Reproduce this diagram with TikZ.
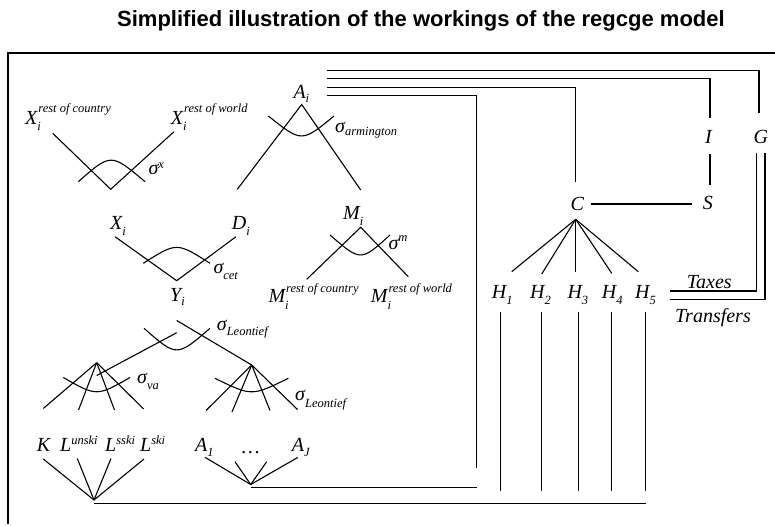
\documentclass[tikz,border=0pt]{standalone}
\usepackage{fontspec}
\setmainfont{Liberation Serif}
\newfontfamily\headfont{Liberation Sans}
\newcommand\smallsz{\fontsize{12.5}{14}\selectfont}
\newcommand\subtx[2][6]{\raisebox{-#1pt}{\smallsz #2}}
\newcommand\suptx[2][11]{\raisebox{#1pt}{\smallsz #2}}
\begin{document}
\begin{tikzpicture}[x=1pt,y=-1pt,
  lab/.style={font=\fontsize{20}{22}\selectfont\itshape, inner sep=0pt, anchor=base west},
  wire/.style={line width=1.1pt, line cap=butt},
  frame/.style={line width=1.4pt},
  elast/.style={line width=1.1pt}]
\useasboundingbox (0,0) rectangle (775,526);

% title and outer frame
\node[font=\headfont\bfseries\fontsize{22}{26}\selectfont, anchor=base west, inner sep=0pt] (title) at (117,27) {Simplified illustration of the workings of the regcge model};
\coordinate (fbl) at (8,524);
\coordinate (ftl) at (8,53);
\coordinate (ftr) at (775,53);
\draw[frame] (fbl) -- (ftl) -- (ftr);

% ---- labels ----
\node[lab] (xroc) at (25,125) {X\rlap{\subtx{i}}\kern1pt\suptx[12]{rest of country}};
\node[lab] (xrow) at (170.7,125) {X\rlap{\subtx{i}}\kern1pt\suptx[12]{rest of world}};
\node[lab] (sigx) at (148.3,175) {σ\suptx[6]{x}};
\node[lab] (ai) at (293.3,99) {A\subtx[4]{i}};
\node[lab] (sigarm) at (335,132.5) {σ\subtx[3]{armington}};
\node[lab] (xi) at (110,229.5) {X\subtx[6]{i}};
\node[lab] (di) at (231.7,229.5) {D\subtx[6]{i}};
\node[lab] (sigcet) at (213.3,273.3) {σ\subtx[6]{cet}};
\node[lab] (yi) at (170,301.7) {Y\subtx[4]{i}};
\node[lab] (mi) at (343,220) {M\subtx[6]{i}};
\node[lab] (sigm) at (388.3,250) {σ\suptx[8]{m}};
\node[lab] (mroc) at (268.3,302) {M\rlap{\subtx[7]{i}}\kern1pt\suptx[10]{rest of country}};
\node[lab] (mrow) at (370.7,302) {M\rlap{\subtx[7]{i}}\kern1pt\suptx[10]{rest of world}};
\node[lab] (sigleo) at (216.7,330) {σ\subtx[5]{Leontief}};
\node[lab] (sigva) at (137,383) {σ\subtx[6]{va}};
\node[lab] (sigleob) at (295,400.7) {σ\subtx[7]{Leontief}};
\node[lab] (k) at (36.7,451.7) {K};
\node[lab] (lun) at (60,451.7) {L\suptx[7]{unski}};
\node[lab] (lss) at (105,451.7) {L\suptx[7]{sski}};
\node[lab] (lsk) at (140,451.7) {L\suptx[7]{ski}};
\node[lab] (a1) at (195,451.7) {A\subtx[5]{1}};
\node[lab] (dots) at (241.7,453) {\ldots};
\node[lab] (aj) at (291.7,451.7) {A\subtx[5]{J}};
\node[lab] (c) at (570.5,210.5) {C};
\node[lab] (s) at (702.7,210) {S};
\node[lab] (inv) at (705,143.3) {I};
\node[lab] (g) at (753.3,143.3) {G};
\node[lab] (h1) at (491.7,298.3) {H\subtx[6]{1}};
\node[lab] (h2) at (530,298.3) {H\subtx[6]{2}};
\node[lab] (h3) at (567.3,298.3) {H\subtx[6]{3}};
\node[lab] (h4) at (601.7,298.3) {H\subtx[6]{4}};
\node[lab] (h5) at (635,298.3) {H\subtx[6]{5}};
\node[lab] (taxes) at (686.7,288.3) {Taxes};
\node[lab] (transfers) at (675,322.7) {Transfers};

% ---- nesting trees ----
% export split
\coordinate (vx) at (110.7,189.3);
\coordinate (vxl) at (52.7,133.3);
\coordinate (vxr) at (174,131.7);
\draw[wire] (vxl) -- (vx) -- (vxr);
\draw[elast] (78.3,181.7) .. controls (111,153) .. (145,181.7);

% Armington aggregate
\coordinate (va) at (301.7,104.5);
\coordinate (val) at (237.3,189.3);
\coordinate (var) at (360.7,190);
\draw[wire] (val) -- (va) -- (var);
\draw[elast] (268.3,116) .. controls (301.7,142.6) .. (334,116);

% CET transformation
\coordinate (vy) at (176.7,280.7);
\coordinate (vyl) at (115,236.7);
\coordinate (vyr) at (236,236.7);
\draw[wire] (vyl) -- (vy) -- (vyr);
\draw[elast] (143.3,263.3) .. controls (176.7,242.1) .. (210,263.3);

% import split
\coordinate (vm) at (360.7,227.3);
\coordinate (vml) at (306.7,279.3);
\coordinate (vmr) at (408.3,276.7);
\draw[wire] (vml) -- (vm) -- (vmr);
\draw[elast] (330,235) .. controls (360.7,261.6) .. (390,235);

% Leontief top level
\coordinate (lt1) at (176.7,320.5);
\coordinate (lt2) at (176.7,332.7);
\coordinate (vaend) at (96.7,375.5);
\coordinate (fva) at (96.7,362.7);
\coordinate (fin) at (251.7,365);
\draw[wire] (lt1) -- (fin);
\draw[wire] (lt2) -- (vaend);
\draw[elast] (144,328.3) .. controls (176.7,357.1) .. (210,328.3);

% value added fan
\foreach \x/\y [count=\n] in {43.3/408.5, 78.5/410, 114.5/410, 143.7/409}
  \coordinate (fva\n) at (\x,\y);
\foreach \n in {1,...,4} \draw[wire] (fva) -- (fva\n);
\draw[elast] (63.3,377.5) .. controls (96.7,396.5) .. (130,377.5);

% intermediate inputs fan
\foreach \x/\y [count=\n] in {206/410.5, 232/412, 270/410.5, 297.5/409.5}
  \coordinate (fin\n) at (\x,\y);
\foreach \n in {1,...,4} \draw[wire] (fin) -- (fin\n);
\draw[elast] (215,378.3) .. controls (251.7,396.3) .. (288.3,378.3);

% factor fan
\coordinate (kl) at (94,500);
\foreach \x/\y [count=\n] in {43.3/459, 77.3/458.5, 111/458.5, 144/459}
  \coordinate (kl\n) at (\x,\y);
\foreach \n in {1,...,4} \draw[wire] (kl) -- (kl\n);

% activity fan
\coordinate (af) at (250.7,484.5);
\foreach \x/\y [count=\n] in {205/457.3, 235/461.7, 266.7/461.7, 297.7/457.5}
  \coordinate (af\n) at (\x,\y);
\foreach \n in {1,...,4} \draw[wire] (af) -- (af\n);

% ---- flows ----
\coordinate (afh) at (250.7,487.5);
\coordinate (afr) at (476.7,487.5);
\draw[wire] (afh) -- (afr);
\coordinate (klh) at (94,503.3);
\coordinate (klr) at (645.8,503.3);
\draw[wire] (klh) -- (klr);

\coordinate (t4a) at (326.7,95.5);
\coordinate (t4b) at (476.7,95.5);
\coordinate (t4c) at (476.7,467.7);
\draw[wire] (t4a) -- (t4b) -- (t4c);

\coordinate (t3a) at (326.7,87.5);
\coordinate (t3b) at (575.7,87.5);
\coordinate (t3c) at (575.7,181.7);
\draw[wire] (t3a) -- (t3b) -- (t3c);

\coordinate (t2a) at (326.7,78.3);
\coordinate (t2b) at (710,78.3);
\coordinate (t2c) at (710,118);
\draw[wire] (t2a) -- (t2b) -- (t2c);
\coordinate (is1) at (710,154);
\coordinate (is2) at (710,185);
\draw[wire] (is1) -- (is2);

\coordinate (t1a) at (326.7,70.5);
\coordinate (t1b) at (759,70.5);
\coordinate (t1c) at (759,113);
\draw[wire] (t1a) -- (t1b) -- (t1c);

\coordinate (cs1) at (590.7,204);
\coordinate (cs2) at (691.7,204);
\draw[wire] (cs1) -- (cs2);

% household fan
\coordinate (cf) at (575.7,219.3);
\foreach \x/\y [count=\n] in {511.7/271.7, 541.7/274, 575.7/271.7, 611.7/273.3, 638.3/271.7}
  \coordinate (cf\n) at (\x,\y);
\foreach \n in {1,...,5} \draw[wire] (cf) -- (cf\n);

% household income lines
\foreach \x [count=\n] in {500.7, 541.3, 578.5, 611.5, 645.8} {
  \coordinate (hv\n a) at (\x,312);
  \coordinate (hv\n b) at (\x,491);
  \draw[wire] (hv\n a) -- (hv\n b);
}

% taxes and transfers
\coordinate (tx1) at (669.5,291);
\coordinate (tx2) at (756.7,291);
\coordinate (tx3) at (756.7,153.3);
\draw[wire] (tx1) -- (tx2) -- (tx3);
\coordinate (tr1) at (669.5,299.3);
\coordinate (tr2) at (765,299.3);
\coordinate (tr3) at (765,153.3);
\draw[wire] (tr1) -- (tr2) -- (tr3);
\end{tikzpicture}
\end{document}
